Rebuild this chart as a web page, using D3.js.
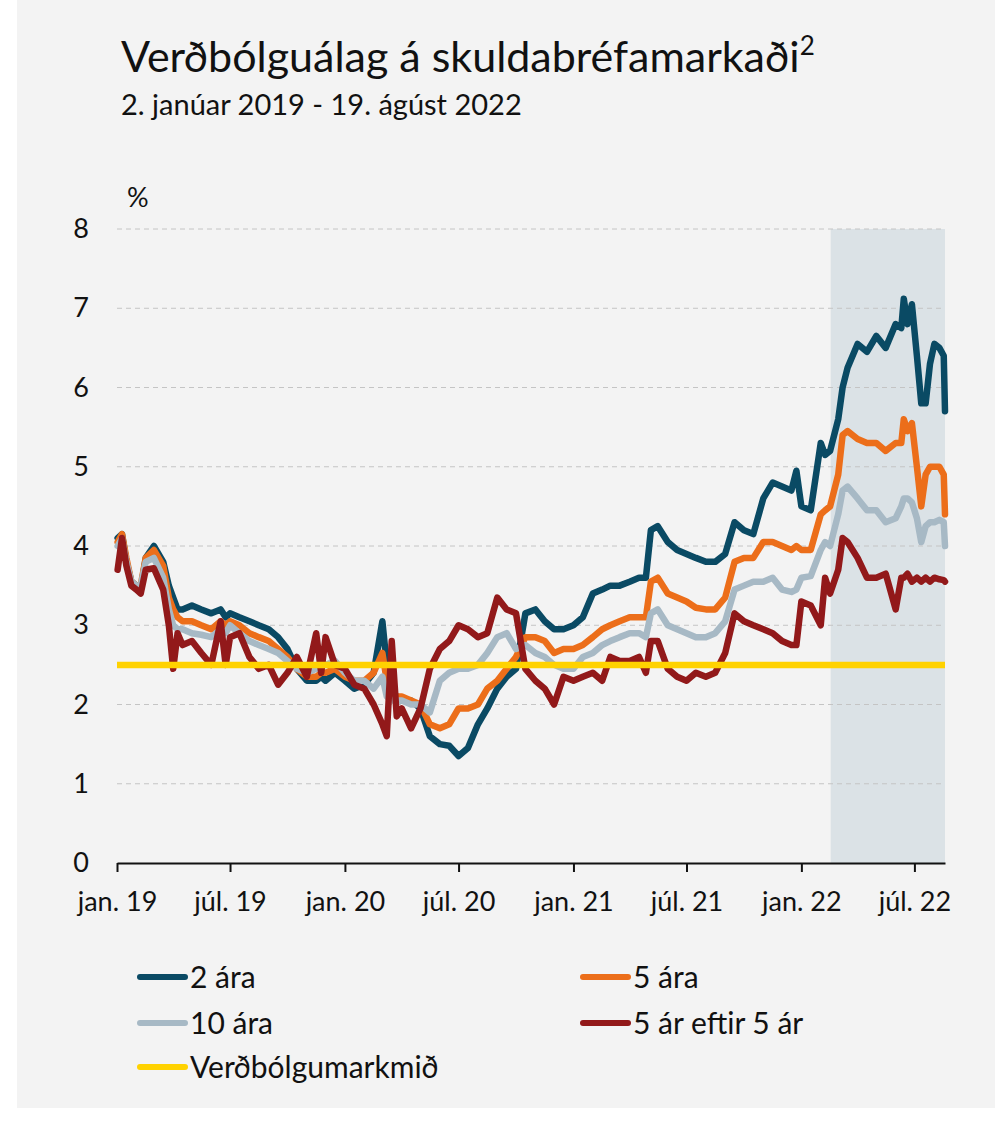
<!DOCTYPE html>
<html>
<head>
<meta charset="utf-8">
<script src="https://cdn.jsdelivr.net/npm/d3@7"></script>
<style>
  body { margin: 0; background: #ffffff; }
  svg text { font-family: Lato, "Open Sans", sans-serif; fill: #111; }
</style>
</head>
<body>
<div id="chart"></div>
<script>
// semi-monthly readings (plus a few extra days where the lines jump)
const dates = [
  "2019-01-02","2019-01-09","2019-01-16","2019-01-24","2019-02-01","2019-02-08","2019-02-16","2019-03-01","2019-03-16","2019-03-25",
  "2019-04-01","2019-04-08","2019-04-16","2019-05-01","2019-05-16","2019-06-01","2019-06-16","2019-06-24","2019-07-01","2019-07-16",
  "2019-08-01","2019-08-16","2019-09-01","2019-09-16","2019-10-01","2019-10-16","2019-11-01","2019-11-16","2019-11-24","2019-12-01",
  "2019-12-16",
  "2020-01-01","2020-01-16","2020-02-01","2020-02-16","2020-03-01","2020-03-08","2020-03-16","2020-03-24","2020-04-01","2020-04-16",
  "2020-05-01","2020-05-16","2020-06-01","2020-06-16","2020-07-01","2020-07-16","2020-08-01","2020-08-16","2020-09-01","2020-09-16",
  "2020-10-01","2020-10-16","2020-11-01","2020-11-16","2020-12-01","2020-12-16",
  "2021-01-01","2021-01-16","2021-02-01","2021-02-16","2021-03-01","2021-03-16","2021-04-01","2021-04-16","2021-04-27","2021-05-05",
  "2021-05-16","2021-06-01","2021-06-16","2021-07-01","2021-07-16","2021-08-01","2021-08-16","2021-09-01","2021-09-16","2021-10-01",
  "2021-10-16","2021-11-01","2021-11-16","2021-12-01","2021-12-16","2021-12-24",
  "2022-01-01","2022-01-16","2022-02-01","2022-02-08","2022-02-16","2022-03-01","2022-03-08","2022-03-16","2022-04-01","2022-04-16",
  "2022-05-01","2022-05-16","2022-06-01","2022-06-10","2022-06-14","2022-06-20","2022-06-27","2022-07-05","2022-07-12","2022-07-19",
  "2022-07-26","2022-08-02","2022-08-10","2022-08-17","2022-08-19"
];

const ara2 = [
  4.1,4.15,3.8,3.55,3.5,3.45,3.85,4.0,3.8,3.5,
  3.35,3.2,3.2,3.25,3.2,3.15,3.2,3.1,3.15,3.1,
  3.05,3.0,2.95,2.85,2.7,2.45,2.3,2.3,2.35,2.3,
  2.4,
  2.3,2.2,2.25,2.4,3.05,2.5,2.15,2.1,2.05,2.05,
  1.95,1.6,1.5,1.48,1.35,1.45,1.75,1.95,2.2,2.35,
  2.45,3.15,3.2,3.05,2.95,2.95,
  3.0,3.1,3.4,3.45,3.5,3.5,3.55,3.6,3.6,4.2,
  4.25,4.05,3.95,3.9,3.85,3.8,3.8,3.9,4.3,4.2,
  4.15,4.6,4.8,4.75,4.7,4.95,
  4.5,4.45,5.3,5.15,5.2,5.6,6.0,6.25,6.55,6.45,
  6.65,6.5,6.8,6.75,7.12,6.8,7.05,6.4,5.8,5.8,
  6.3,6.55,6.5,6.4,5.7
];

const ara5 = [
  4.05,4.15,3.85,3.55,3.5,3.5,3.85,3.95,3.75,3.35,
  3.2,3.1,3.05,3.05,3.0,2.95,3.05,3.0,3.05,3.0,
  2.9,2.85,2.8,2.7,2.6,2.45,2.35,2.35,2.4,2.4,
  2.45,
  2.35,2.3,2.3,2.4,2.65,2.3,2.15,2.1,2.1,2.05,
  2.0,1.75,1.7,1.75,1.95,1.95,2.0,2.2,2.3,2.45,
  2.6,2.85,2.85,2.8,2.65,2.7,
  2.7,2.75,2.85,2.95,3.0,3.05,3.1,3.1,3.1,3.55,
  3.6,3.4,3.35,3.3,3.22,3.2,3.2,3.35,3.8,3.85,
  3.85,4.05,4.05,4.0,3.95,4.0,
  3.95,3.95,4.4,4.45,4.5,4.9,5.4,5.45,5.35,5.3,
  5.3,5.2,5.3,5.3,5.6,5.45,5.55,5.0,4.5,4.9,
  5.0,5.0,5.0,4.9,4.4
];

const ara10 = [
  4.0,4.1,3.8,3.55,3.5,3.5,3.8,3.85,3.6,3.2,
  3.0,2.95,2.95,2.9,2.88,2.85,2.95,2.9,3.0,2.9,
  2.8,2.75,2.7,2.65,2.55,2.45,2.4,2.45,2.5,2.5,
  2.55,
  2.4,2.3,2.3,2.2,2.35,2.1,2.05,2.05,2.05,2.0,
  2.0,1.9,2.3,2.4,2.45,2.45,2.5,2.65,2.85,2.9,
  2.7,2.75,2.65,2.6,2.5,2.45,
  2.45,2.6,2.65,2.75,2.8,2.85,2.9,2.9,2.85,3.15,
  3.2,3.0,2.95,2.9,2.85,2.85,2.9,3.05,3.45,3.5,
  3.55,3.55,3.6,3.45,3.42,3.45,
  3.6,3.62,3.95,4.05,4.0,4.4,4.7,4.75,4.6,4.45,
  4.45,4.3,4.35,4.5,4.6,4.6,4.55,4.35,4.05,4.25,
  4.3,4.3,4.33,4.3,4.0
];

const ar5eftir5 = [
  3.7,4.1,3.75,3.5,3.45,3.4,3.7,3.72,3.45,3.0,
  2.45,2.9,2.75,2.8,2.65,2.5,3.05,2.5,2.85,2.9,
  2.6,2.45,2.5,2.25,2.4,2.6,2.35,2.9,2.4,2.85,
  2.5,
  2.45,2.25,2.2,2.0,1.75,1.6,2.8,1.85,1.95,1.7,
  1.95,2.45,2.7,2.8,3.0,2.95,2.85,2.9,3.35,3.2,
  3.15,2.45,2.3,2.2,2.0,2.35,
  2.3,2.35,2.4,2.3,2.6,2.55,2.55,2.6,2.4,2.8,
  2.8,2.45,2.35,2.3,2.4,2.35,2.4,2.65,3.15,3.05,
  3.0,2.95,2.9,2.8,2.75,2.75,
  3.3,3.25,3.0,3.6,3.4,3.7,4.1,4.05,3.85,3.6,
  3.6,3.65,3.2,3.6,3.6,3.65,3.55,3.6,3.55,3.6,
  3.55,3.6,3.58,3.57,3.55
];

const inflationTarget = 2.5;
const shadeStart = "2022-02-17";
const xStart = "2019-01-01", xEnd = "2022-08-19";
const xTicks = ["2019-01-01","2019-07-01","2020-01-01","2020-07-01","2021-01-01","2021-07-01","2022-01-01","2022-07-01"];
const yTicks = [0,1,2,3,4,5,6,7,8];
const monthNames = {0: "jan.", 6: "júl."};

const seriesNames = ["2 ára", "5 ára", "10 ára", "5 ár eftir 5 ár"];
const seriesValues = [ara2, ara5, ara10, ar5eftir5];
const seriesColors = ["#0a4a64", "#ec6e1a", "#a7b9c5", "#92191a"];
const targetName = "Verðbólgumarkmið";
const targetColor = "#ffd200";

const width = 1008, height = 1134;
const margin = {top: 229, right: 63, bottom: 271, left: 117};

const parse = d3.timeParse("%Y-%m-%d");

const svg = d3.select("#chart").append("svg")
  .attr("width", width)
  .attr("height", height);

svg.append("rect")
  .attr("x", 17).attr("y", 0)
  .attr("width", 978).attr("height", 1108)
  .attr("fill", "#f3f3f3");

const x = d3.scaleTime()
  .domain([parse(xStart), parse(xEnd)])
  .range([margin.left, width - margin.right]);
const y = d3.scaleLinear()
  .domain([0, 8])
  .range([height - margin.bottom, margin.top]);

// title
const title = svg.append("text")
  .attr("x", 121).attr("y", 72)
  .style("font-size", "43px");
title.append("tspan").text("Verðbólguálag á skuldabréfamarkaði");
title.append("tspan").attr("dy", -17).style("font-size", "26px").text("2");
svg.append("text")
  .attr("x", 121).attr("y", 115)
  .style("font-size", "29px")
  .text("2. janúar 2019 - 19. ágúst 2022");

svg.append("text")
  .attr("x", 127).attr("y", 207)
  .style("font-size", "27px")
  .text("%");

// shaded period
svg.append("rect")
  .attr("x", x(parse(shadeStart)))
  .attr("y", y(8))
  .attr("width", x(parse(xEnd)) - x(parse(shadeStart)))
  .attr("height", y(0) - y(8))
  .attr("fill", "#dbe2e6");

// gridlines
svg.append("g")
  .selectAll("line")
  .data(yTicks.filter(d => d > 0))
  .enter().append("line")
    .attr("x1", x.range()[0]).attr("x2", x.range()[1])
    .attr("y1", d => y(d)).attr("y2", d => y(d))
    .attr("stroke", "#c4c4c4")
    .attr("stroke-width", 1)
    .attr("stroke-dasharray", "5,4");

// y axis labels
const yAxis = svg.append("g")
  .attr("transform", `translate(${margin.left - 28},0)`)
  .call(d3.axisLeft(y).tickValues(yTicks).tickSize(0).tickPadding(0).tickFormat(d3.format("d")));
yAxis.select(".domain").remove();
yAxis.selectAll("text")
  .style("font-size", "27px")
  .style("font-family", "Lato, sans-serif")
  .attr("fill", "#111");

// lines
const line = d3.line()
  .x((d, i) => x(parse(dates[i])))
  .y(d => y(d));

svg.append("g")
  .selectAll("path")
  .data(seriesValues)
  .enter().append("path")
    .attr("d", d => line(d))
    .attr("fill", "none")
    .attr("stroke", (d, i) => seriesColors[i])
    .attr("stroke-width", 6.5)
    .attr("stroke-linejoin", "round")
    .attr("stroke-linecap", "round");

svg.append("line")
  .attr("x1", x.range()[0]).attr("x2", x.range()[1])
  .attr("y1", y(inflationTarget)).attr("y2", y(inflationTarget))
  .attr("stroke", targetColor)
  .attr("stroke-width", 6.5);

// x axis
const xAxis = svg.append("g")
  .attr("transform", `translate(0,${y(0)})`)
  .call(d3.axisBottom(x)
    .tickValues(xTicks.map(parse))
    .tickSize(9)
    .tickSizeOuter(0)
    .tickPadding(20)
    .tickFormat(d => monthNames[d.getMonth()] + " " + d3.timeFormat("%y")(d)));
xAxis.select(".domain").attr("stroke", "#111").attr("stroke-width", 2);
xAxis.selectAll(".tick line").attr("stroke", "#111").attr("stroke-width", 2);
xAxis.selectAll("text")
  .style("font-size", "27px")
  .style("font-family", "Lato, sans-serif")
  .attr("fill", "#111");

// legend
const legendItems = seriesNames.map((n, i) => ({name: n, color: seriesColors[i]}))
  .concat([{name: targetName, color: targetColor}]);
const legendPos = [[137, 977], [580, 977], [137, 1023], [580, 1023], [137, 1067]];

const legend = svg.append("g").selectAll("g")
  .data(legendItems)
  .enter().append("g")
    .attr("transform", (d, i) => `translate(${legendPos[i][0]},${legendPos[i][1]})`);
legend.append("line")
  .attr("x1", 3).attr("x2", 48)
  .attr("stroke", d => d.color)
  .attr("stroke-width", 6)
  .attr("stroke-linecap", "round");
legend.append("text")
  .attr("x", 53).attr("y", 11)
  .style("font-size", "30px")
  .text(d => d.name);
</script>
</body>
</html>
